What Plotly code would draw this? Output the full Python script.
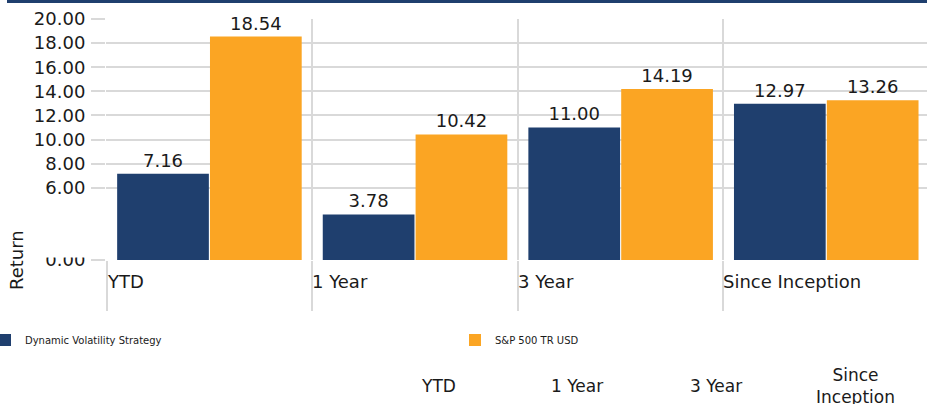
import plotly.graph_objects as go

categories = ["YTD", "1 Year", "3 Year", "Since Inception"]
strategy_name = "Dynamic Volatility Strategy"
benchmark_name = "S&P 500 TR USD"
strategy_values = [7.16, 3.78, 11.00, 12.97]
benchmark_values = [18.54, 10.42, 14.19, 13.26]
y_tick_values = [0, 6, 8, 10, 12, 14, 16, 18, 20]
table_headers = ["YTD", "1 Year", "3 Year", "Since<br>Inception"]

BLUE = "#1F3F6E"
ORANGE = "#FBA523"
GRID = "#D9D9D9"
FONT = "DejaVu Sans"

W, H = 927, 404
L, T, B = 106, 19, 144
plot_w = W - L
plot_h = H - T - B


def px_x(px):
    return (px - L) / plot_w


def px_y(py):
    return (H - B - py) / plot_h


xpos = [i + 0.5 for i in range(len(categories))]

fig = go.Figure()
fig.add_trace(go.Bar(
    x=xpos, y=strategy_values, name=strategy_name, marker=dict(color=BLUE, line=dict(width=0)),
    text=[f"{v:.2f}" for v in strategy_values], textposition="outside",
    textfont=dict(size=18, color="#1a1a1a", family=FONT), cliponaxis=False, legend="legend",
))
fig.add_trace(go.Bar(
    x=xpos, y=benchmark_values, name=benchmark_name, marker=dict(color=ORANGE, line=dict(width=0)),
    text=[f"{v:.2f}" for v in benchmark_values], textposition="outside",
    textfont=dict(size=18, color="#1a1a1a", family=FONT), cliponaxis=False, legend="legend2",
))

annotations = []
for i, c in enumerate(categories):
    annotations.append(dict(
        x=i, xref="x", xanchor="left", y=px_y(281), yref="paper", yanchor="middle",
        text=c, showarrow=False, font=dict(size=18, color="#1a1a1a", family=FONT), xshift=-2,
    ))
annotations.append(dict(
    x=px_x(16), xref="paper", xanchor="center", y=px_y(260), yref="paper", yanchor="middle",
    text="Return", textangle=-90, showarrow=False, font=dict(size=18, color="#1a1a1a", family=FONT),
))
header_x = [438, 577, 716, 855]
for hx, h in zip(header_x, table_headers):
    annotations.append(dict(
        x=px_x(hx), xref="paper", xanchor="center",
        y=px_y(386), yref="paper", yanchor="middle",
        text=h, showarrow=False, font=dict(size=17, color="#1a1a1a", family=FONT),
    ))

shapes = [
    dict(type="rect", xref="paper", yref="paper", x0=px_x(7), x1=1.01,
         y0=px_y(3), y1=px_y(-2), fillcolor=BLUE, line=dict(width=0), layer="above"),
    dict(type="rect", xref="paper", yref="y", x0=0, x1=1, y0=0.1, y1=4.95,
         fillcolor="white", line=dict(width=0), layer="between"),
    dict(type="rect", xref="paper", yref="y", x0=px_x(32), x1=0.0015, y0=0.2, y1=4.95,
         fillcolor="white", line=dict(width=0), layer="above"),
]

legend_common = dict(
    orientation="h", xref="paper", yref="paper", xanchor="left", yanchor="middle",
    font=dict(size=10, family=FONT, color="#1a1a1a"), itemwidth=30,
    bgcolor="rgba(0,0,0,0)", borderwidth=0,
)

fig.update_layout(
    width=W, height=H,
    margin=dict(l=L, r=0, t=T, b=B, pad=0, autoexpand=False),
    paper_bgcolor="white", plot_bgcolor="white",
    font=dict(family=FONT, size=18, color="#1a1a1a"),
    barmode="group", bargap=0.097, bargroupgap=0.012,
    showlegend=True,
    legend=dict(x=px_x(-15), y=px_y(340), **legend_common),
    legend2=dict(x=px_x(455), y=px_y(340), **legend_common),
    xaxis=dict(range=[-0.003, 3.99], tickvals=[0, 1, 2, 3], ticktext=["", "", "", ""],
               showgrid=True, gridcolor=GRID, gridwidth=2, ticks="outside", ticklen=50,
               tickwidth=2, tickcolor=GRID, zeroline=False, showline=False, fixedrange=True),
    yaxis=dict(range=[0, 20], tickvals=y_tick_values, ticktext=[f"{v:.2f}" for v in y_tick_values],
               showgrid=True, gridcolor=GRID, gridwidth=2, ticks="outside", ticklen=14,
               tickwidth=2, tickcolor=GRID, zeroline=False, showline=False,
               tickfont=dict(size=18, family=FONT, color="#1a1a1a"), ticklabelstandoff=2),
    annotations=annotations,
    shapes=shapes,
)

fig.write_html("out.html", config={"displayModeBar": False},
               post_script="document.body.style.margin='0px';")
